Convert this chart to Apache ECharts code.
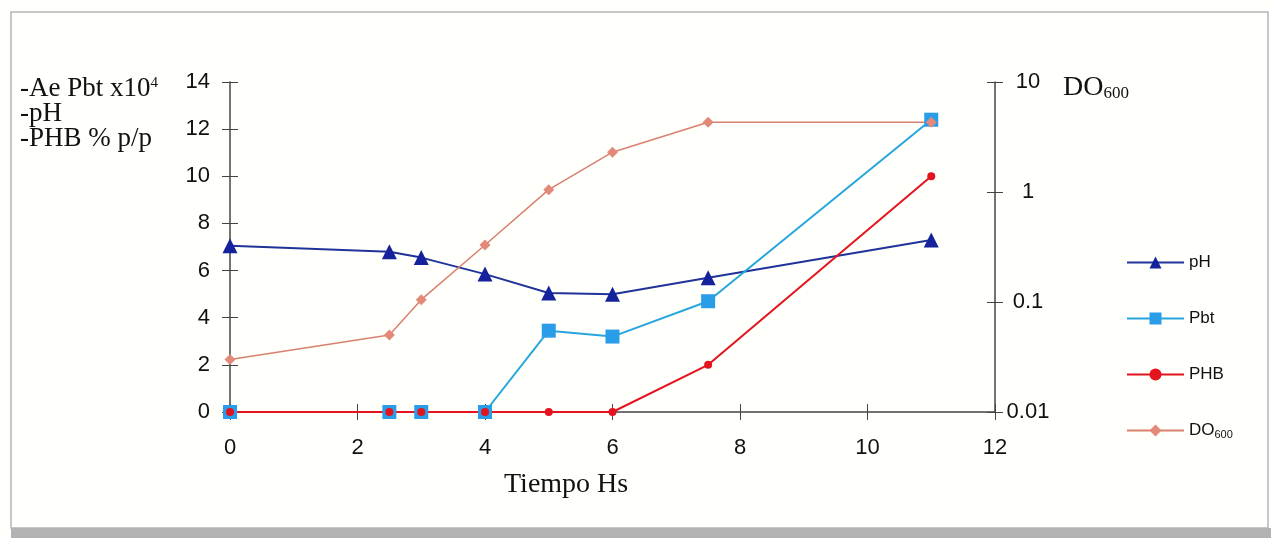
<!DOCTYPE html>
<html lang="es">
<head>
    <meta charset="UTF-8">
    <title>Tiempo Hs</title>
    <script src="https://cdn.jsdelivr.net/npm/echarts@6/dist/echarts.min.js"></script>
    <style>
        html, body { margin: 0; padding: 0; background: #fffffc; }
        #main { width: 1271px; height: 538px; }
    </style>
</head>
<body>
<div id="main"></div>
<script>
    // datos
    var tiempo = [0, 2.5, 3, 4, 5, 6, 7.5, 11];
    var ph = [7.05, 6.8, 6.55, 5.85, 5.05, 5.0, 5.7, 7.3];
    var pbt = [0, 0, 0, 0, 3.45, 3.2, 4.7, 12.4];
    var phb = [0, 0, 0, 0, 0, 0, 2.0, 10.0];
    var do600 = [0.03, 0.05, 0.105, 0.33, 1.05, 2.3, 4.3, 4.3];
    var logTicks = [0.01, 0.1, 1, 10];

    function pares(ys) {
        return tiempo.map(function (t, i) { return [t, ys[i]]; });
    }

    var sans = 'Liberation Sans, Arial, sans-serif';
    var serif = 'Liberation Serif, Times New Roman, serif';
    var ejeColor = '#444';
    var caja = { left: 230, right: 276, top: 82, bottom: 126 };

    var myChart = echarts.init(document.getElementById('main'));

    // segundo grid identico solo para las marcas interiores (ticks que cruzan el eje)
    var option = {
        backgroundColor: '#fffffc',
        animation: false,
        grid: [caja, caja],
        legend: {
            orient: 'vertical',
            left: 1121,
            top: 249,
            itemWidth: 57,
            itemHeight: 15,
            itemGap: 39,
            textStyle: {
                fontFamily: sans, fontSize: 17, color: '#111',
                rich: { sub: { fontFamily: sans, fontSize: 11, color: '#111', padding: [8, 0, 0, 0] } }
            },
            formatter: function (name) {
                return name === 'DO600' ? 'DO{sub|600}' : name;
            },
            data: ['pH', 'Pbt', 'PHB', 'DO600']
        },
        xAxis: [{
            type: 'value', gridIndex: 0, min: 0, max: 12, interval: 2,
            axisLine: { onZero: false, lineStyle: { color: ejeColor, width: 1.5 } },
            axisTick: { length: 8, lineStyle: { color: ejeColor } },
            axisLabel: { margin: 25, fontFamily: sans, fontSize: 22, color: '#111' },
            splitLine: { show: false }
        }, {
            type: 'value', gridIndex: 1, min: 0, max: 12, interval: 2,
            axisLine: { show: false, onZero: false },
            axisTick: { inside: true, length: 8, lineStyle: { color: ejeColor } },
            axisLabel: { show: false },
            splitLine: { show: false }
        }],
        yAxis: [{
            type: 'value', gridIndex: 0, min: 0, max: 14, interval: 2, position: 'left',
            axisLine: { show: true, onZero: false, lineStyle: { color: ejeColor, width: 1.5 } },
            axisTick: { show: true, length: 8, lineStyle: { color: ejeColor } },
            axisLabel: { margin: 20, fontFamily: sans, fontSize: 22, color: '#111' },
            splitLine: { show: false }
        }, {
            type: 'log', gridIndex: 0, logBase: 10, min: 0.01, max: 10, position: 'right',
            axisLine: { show: true, onZero: false, lineStyle: { color: ejeColor, width: 1.5 } },
            axisTick: { show: true, length: 8, lineStyle: { color: ejeColor } },
            axisLabel: {
                margin: 33, align: 'center', fontFamily: sans, fontSize: 22, color: '#111',
                formatter: function (v) {
                    var i = logTicks.findIndex(function (t) { return Math.abs(t - v) / t < 1e-6; });
                    return i >= 0 ? String(logTicks[i]) : '';
                }
            },
            splitLine: { show: false }
        }, {
            type: 'value', gridIndex: 1, min: 0, max: 14, interval: 2, position: 'left',
            axisLine: { show: false, onZero: false },
            axisTick: { show: true, inside: true, length: 8, lineStyle: { color: ejeColor } },
            axisLabel: { show: false },
            splitLine: { show: false }
        }, {
            type: 'log', gridIndex: 1, logBase: 10, min: 0.01, max: 10, position: 'right',
            axisLine: { show: false, onZero: false },
            axisTick: { show: true, inside: true, length: 8, lineStyle: { color: ejeColor } },
            axisLabel: { show: false },
            splitLine: { show: false }
        }],
        series: [{
            name: 'pH', type: 'line', xAxisIndex: 0, yAxisIndex: 0,
            data: pares(ph),
            symbol: 'triangle', symbolSize: 15,
            lineStyle: { color: '#1f3399', width: 2 },
            itemStyle: { color: '#15229c' }
        }, {
            name: 'Pbt', type: 'line', xAxisIndex: 0, yAxisIndex: 0,
            data: pares(pbt),
            symbol: 'rect', symbolSize: 14,
            lineStyle: { color: '#27a6de', width: 2 },
            itemStyle: { color: '#2a9de8' }
        }, {
            name: 'PHB', type: 'line', xAxisIndex: 0, yAxisIndex: 0,
            data: pares(phb),
            symbol: 'circle', symbolSize: 8,
            lineStyle: { color: '#e4141e', width: 2 },
            itemStyle: { color: '#e4141e' }
        }, {
            name: 'DO600', type: 'line', xAxisIndex: 0, yAxisIndex: 1,
            data: pares(do600),
            symbol: 'diamond', symbolSize: 11,
            lineStyle: { color: '#d9806e', width: 1.5 },
            itemStyle: { color: '#e2897a' }
        }],
        graphic: [
            // marco exterior
            { type: 'rect', shape: { x: 11, y: 12, width: 1257, height: 516 },
              style: { fill: 'none', stroke: '#b5b5b5', lineWidth: 1.5 }, silent: true },
            { type: 'rect', shape: { x: 11, y: 528, width: 1260, height: 10 },
              style: { fill: '#b3b3b3' }, silent: true },
            // titulos
            { type: 'text', left: 20, top: 75,
              style: {
                  text: '-Ae Pbt x10{sup|4}\n-pH\n-PHB % p/p',
                  font: '27px ' + serif, fill: '#111', lineHeight: 25,
                  rich: { sup: { font: '15px ' + serif, fill: '#111', verticalAlign: 'top', padding: [0, 0, 10, 0] } }
              } },
            { type: 'text', left: 1063, top: 74,
              style: {
                  text: 'DO{sub|600}',
                  font: '28px ' + serif, fill: '#111',
                  rich: { sub: { font: '17px ' + serif, fill: '#111', padding: [11, 0, 0, 0] } }
              } },
            { type: 'text', left: 504, top: 471,
              style: { text: 'Tiempo Hs', font: '28px ' + serif, fill: '#111' } }
        ]
    };

    myChart.setOption(option);
</script>
</body>
</html>
